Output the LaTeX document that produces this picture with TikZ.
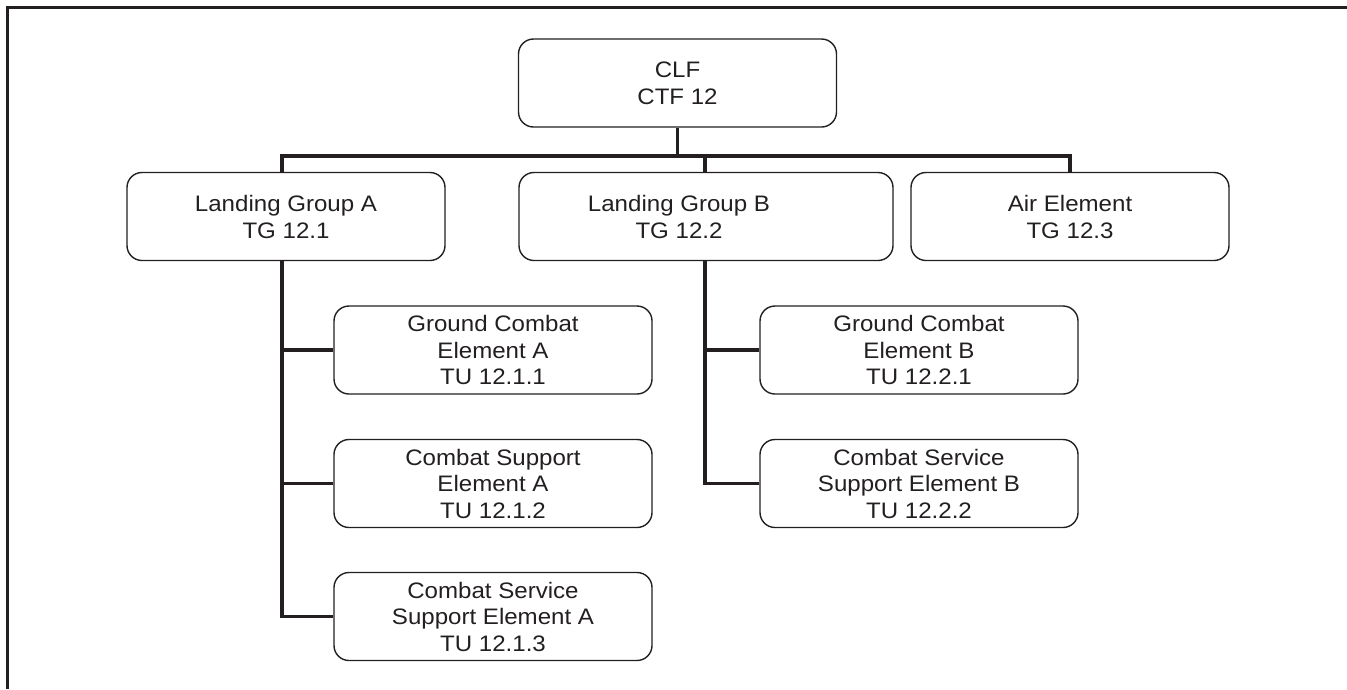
\documentclass[tikz,border=0pt]{standalone}
\usepackage{fontspec}
\setmainfont{Liberation Sans}[FakeStretch=1.075]
\definecolor{ink}{HTML}{231F20}
\begin{document}
\begin{tikzpicture}[x=1pt,y=-1pt,
  box/.style={draw=ink, line width=1.4pt, rounded corners=15pt,
    minimum width=318pt, minimum height=88pt, inner sep=0pt,
    align=center, text=ink, font=\fontsize{22.4}{27}\selectfont},
  tribox/.style={box, font=\fontsize{22.4}{26.5}\selectfont},
  label/.style={inner sep=0pt, align=center, text=ink, font=\fontsize{22.4}{27}\selectfont},
  conn/.style={draw=ink, line width=3.6pt},
  frame/.style={draw=ink, line width=3pt}]
\useasboundingbox (0,0) rectangle (1347,689);

% page frame (top and left rules)
\draw[frame] (7.5,689) -- (7.5,7.5) -- (1347,7.5);

% command level
\node[box] (clf) at (677.5,83) {CLF\\CTF 12};

% task groups
\node[box] (lga) at (286,216.5) {Landing Group A\\TG 12.1};
\node[box, minimum width=374pt] (lgb) at (706,216.5) {};
\node[label] (lgbtext) at (679,216.5) {Landing Group B\\TG 12.2};
\node[box] (air) at (1070,216.5) {Air Element\\TG 12.3};

% task units under group A
\node[tribox] (gca) at (493,350) {Ground Combat\\Element A\\TU 12.1.1};
\node[tribox] (csa) at (493,483.5) {Combat Support\\Element A\\TU 12.1.2};
\node[tribox] (cssa) at (493,616.5) {Combat Service\\Support Element A\\TU 12.1.3};

% task units under group B
\node[tribox] (gcb) at (919,350) {Ground Combat\\Element B\\TU 12.2.1};
\node[tribox] (cssb) at (919,483.5) {Combat Service\\Support Element B\\TU 12.2.2};

% bus line and spines
\coordinate (bus) at (0,156);
\coordinate (spineA) at ([xshift=-4pt]lga.south);
\coordinate (spineB) at ([xshift=-1pt]lgb.south);

\draw[conn] (clf.south) -- (clf.south |- bus);
\draw[conn] ([xshift=-4pt]lga.north) |- (air.north |- bus) -- (air.north);
\draw[conn] ([xshift=-1pt]lgb.north) -- ([xshift=-1pt]lgb.north |- bus);

\draw[conn] (spineA) |- (cssa.west);
\draw[conn] (gca.west) -- (spineA |- gca.west);
\draw[conn] (csa.west) -- (spineA |- csa.west);

\draw[conn] (spineB) |- (cssb.west);
\draw[conn] (gcb.west) -- (spineB |- gcb.west);
\end{tikzpicture}
\end{document}
